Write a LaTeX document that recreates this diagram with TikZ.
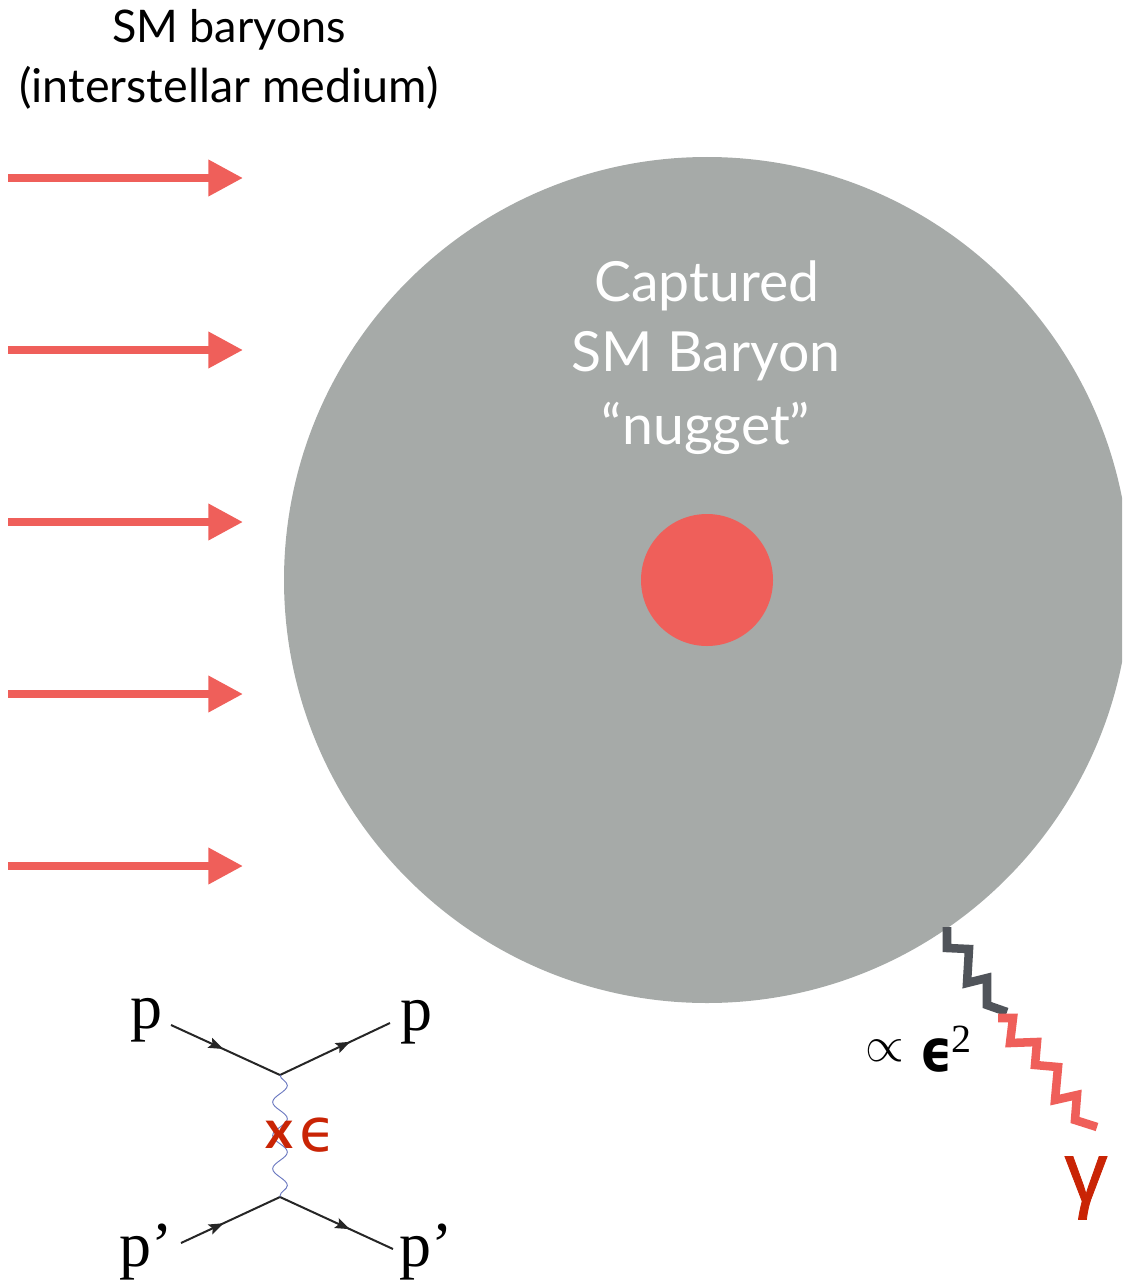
\documentclass[tikz,border=0pt]{standalone}
\usepackage{fontspec}
\setmainfont{Lato}
\newfontfamily\serifp{Liberation Serif}
\newfontfamily\djv{DejaVu Sans}
\newfontfamily\gsans{Liberation Sans}
\usetikzlibrary{arrows.meta,decorations.markings,decorations.pathmorphing}
\definecolor{salmon}{HTML}{EF5F5A}
\definecolor{nugget}{HTML}{A6AAA8}
\definecolor{dred}{HTML}{C92405}
\definecolor{slate}{HTML}{50545A}
\definecolor{wave}{HTML}{6A78C0}
\tikzset{
  flux/.style={draw=salmon,line width=6pt,-{Triangle[length=26pt,width=26pt]}},
  fermion/.style={draw=black!85,line width=1.5pt,postaction={decorate},decoration={markings,mark=at position #1 with {\arrow{Stealth[length=11pt,width=8pt,inset=2pt]}}}},
  photon/.style={draw=wave,line width=0.7pt,decorate,decoration={snake,segment length=25pt,amplitude=5.5pt}},
  zig/.style={line width=6.4pt,line join=miter},
  lbl/.style={inner sep=0pt,font=\fontsize{35}{35}\selectfont},
  big/.style={inner sep=0pt,text=white,font=\fontsize{41.5}{42}\selectfont},
  plbl/.style={inner sep=0pt,font=\serifp\fontsize{48}{48}\selectfont},
}
\begin{document}
\begin{tikzpicture}[x=0.75pt,y=-0.75pt]
\useasboundingbox (0,0) rectangle (1122,1280);
\begin{scope}
\clip (0,0) rectangle (1122,1280);
\node[circle,fill=nugget,minimum size=634.5pt,inner sep=0pt] (ball) at (707,580) {};
\end{scope}
\node[circle,fill=salmon,minimum size=99pt,inner sep=0pt] (core) at (707,580) {};
\node[big] (t1) at (707,286) {Captured};
\node[big] (t2) at (706,356) {SM Baryon};
\node[big] (t3) at (706,428) {“nugget”};
\node[lbl,font=\fontsize{33.7}{34}\selectfont] (h1) at (229,30) {SM baryons};
\node[lbl] (h2) at (229,88) {(interstellar medium)};
\foreach \i/\y in {1/178,2/350,3/522,4/694,5/866}{
  \coordinate (fa\i) at (8,\y);
  \coordinate (fb\i) at (243,\y);
  \draw[flux] (fa\i) -- (fb\i);
}
\coordinate (z0) at (947,927);
\coordinate (z1) at (1007,1012);
\coordinate (z2) at (998,1018);
\coordinate (z3) at (1097,1127);
\draw[zig,slate] (z0) -- (947,948) -- (969,949) -- (967,983) -- (987,978) -- (987,1005) -- (z1);
\draw[zig,salmon] (z2) -- (1013,1018) -- (1010,1043) -- (1037,1042) -- (1035,1065) -- (1058,1067) -- (1055,1100) -- (1077,1095) -- (1075,1120) -- (z3);
\node[inner sep=0pt,scale=1.5,font=\fontsize{30}{30}\selectfont] (prop) at (885,1051) {$\propto$};
\node[inner sep=0pt,xscale=.85,font=\djv\bfseries\fontsize{44}{44}\selectfont] (eps) at (937,1055) {ϵ};
\node[inner sep=0pt,font=\serifp\fontsize{30}{30}\selectfont] (two) at (961,1039) {2};
\node[inner sep=0pt,text=dred,font=\gsans\fontsize{64}{64}\selectfont] (gam) at (1086,1188) {\special{pdf:code q 2 Tr 0.6 w}γ\special{pdf:code Q}};
\coordinate (v1) at (280,1075);
\coordinate (v2) at (280,1197);
\coordinate (a1) at (171,1025);
\coordinate (a2) at (390,1023);
\coordinate (a3) at (181,1243);
\coordinate (a4) at (393,1249);
\draw[fermion=0.48] (a1) -- (v1);
\draw[fermion=0.64] (v1) -- (a2);
\draw[fermion=0.43] (a3) -- (v2);
\draw[fermion=0.62] (v2) -- (a4);
\draw[photon] (v1) -- (v2);
\node[plbl] (p1) at (146,1020) {p};
\node[plbl] (p2) at (416,1022) {p};
\node[plbl] (p3) at (146,1252) {p’};
\node[plbl] (p4) at (426,1252) {p’};
\node[inner sep=0pt,text=dred,font=\bfseries\fontsize{40}{40}\selectfont] (xx) at (279,1135) {x};
\node[inner sep=0pt,text=dred,font=\djv\fontsize{45}{45}\selectfont] (xe) at (318,1135) {ϵ};
\end{tikzpicture}
\end{document}
